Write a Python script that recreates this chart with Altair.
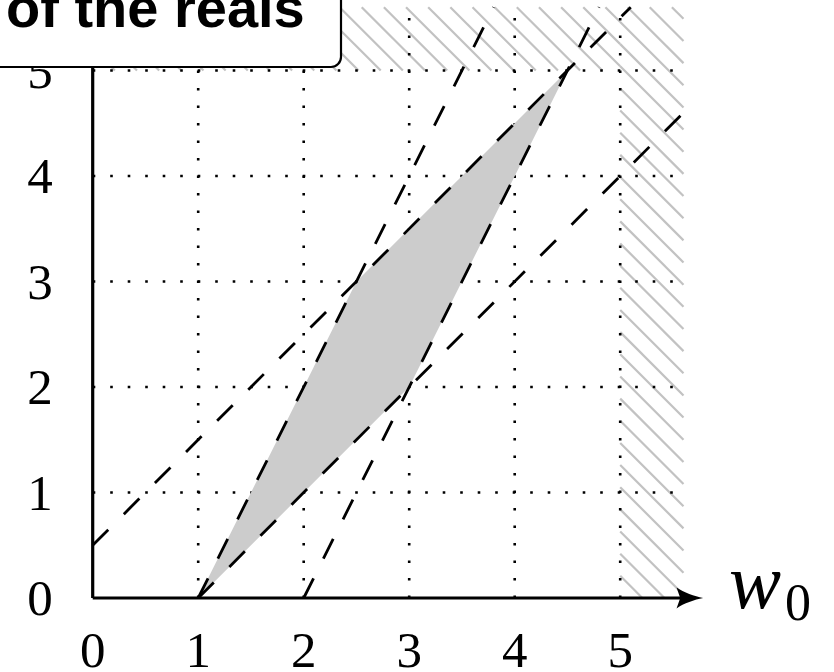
import altair as alt
import pandas as pd

# ---------------- data ----------------
tick_values = [0, 1, 2, 3, 4, 5]
tick_labels = ["0", "1", "2", "3", "4", "5"]
grid_values = [1, 2, 3, 4, 5]
plot_max = 5.6           # end of drawn plane
forbidden_from = 5.0     # hatched zone starts at 5 on both axes

# dashed constraint lines (start / end points, clipped to the plane)
line_x1 = [0.0, 1.0, 1.0, 2.0]
line_y1 = [0.5, 0.0, 0.0, 0.0]
line_x2 = [5.1, 5.6, 3.8, 4.8]
line_y2 = [5.6, 4.6, 5.6, 5.6]

# grey feasible region: upper and lower boundary at its vertices' x
region_x = [1.0, 2.5, 3.0, 4.5]
region_upper = [0.0, 3.0, 3.5, 5.0]
region_lower = [0.0, 1.5, 2.0, 5.0]

title_text = "of the reals"
x_label_main = "w"
x_label_sub = "0"
arrow_end = 5.66

# ---------------- geometry of the canvas ----------------
W, H = 834, 672
PX = 105.5            # pixels per unit
X0, Y0 = 92.7, 598.0  # pixel position of the origin
xs = alt.Scale(domain=[-X0 / PX, (W - X0) / PX], range=[0, W], nice=False, zero=False)
ys = alt.Scale(domain=[(Y0 - H) / PX, Y0 / PX], range=[H, 0], nice=False, zero=False)


def X(f):
    return alt.X(f, type="quantitative", scale=xs, axis=None)


def Y(f):
    return alt.Y(f, type="quantitative", scale=ys, axis=None)


# hatch texture (north-west lines) for the forbidden zone
hatch_step = 0.21
hatch_phase = 10.04
rects = [(forbidden_from, plot_max, 0.0, plot_max), (0.0, forbidden_from, forbidden_from, plot_max)]
hrows = []
for k in range(-26, 7):
    c = hatch_phase + k * hatch_step
    for (x0, x1, y0, y1) in rects:
        xa = max(x0, c - y1)
        xb = min(x1, c - y0)
        if xb - xa > 1e-6:
            hrows.append({"x": xa, "y": c - xa, "x2": xb, "y2": c - xb})
hatch_df = pd.DataFrame(hrows)

hatch = alt.Chart(hatch_df).mark_rule(color="#c2c2c2", strokeWidth=2.2).encode(
    x=X("x"), y=Y("y"), x2="x2", y2="y2")

vgrid_df = pd.DataFrame({"g": grid_values, "a": [0.0] * 5, "b": [plot_max] * 5})
vgrid = alt.Chart(vgrid_df).mark_rule(color="black", strokeWidth=2.6, strokeDash=[2.6, 14.9]).encode(
    x=X("g"), y=Y("a"), y2="b")
hgrid = alt.Chart(vgrid_df).mark_rule(color="black", strokeWidth=2.6, strokeDash=[2.6, 14.9]).encode(
    y=Y("g"), x=X("a"), x2="b")

region_df = pd.DataFrame({"x": region_x, "hi": region_upper, "lo": region_lower})
region = alt.Chart(region_df).mark_area(color="#cccccc", opacity=1, interpolate="linear").encode(
    x=X("x"), y=Y("hi"), y2="lo")

lines_df = pd.DataFrame({"x": line_x1, "y": line_y1, "x2": line_x2, "y2": line_y2})
dashed = alt.Chart(lines_df).mark_rule(color="black", strokeWidth=2.8, strokeDash=[22, 22]).encode(
    x=X("x"), y=Y("y"), x2="x2", y2="y2")

axes_df = pd.DataFrame({"x": [0.0, 0.0], "y": [0.0, 0.0], "x2": [arrow_end, 0.0], "y2": [0.0, plot_max]})
axes = alt.Chart(axes_df).mark_rule(color="black", strokeWidth=3.2).encode(
    x=X("x"), y=Y("y"), x2="x2", y2="y2")

arrow_path = "M1,0 C0.35,-0.12 -0.45,-0.4 -1,-0.78 L-0.72,0 L-1,0.78 C-0.45,0.4 0.35,0.12 1,0 Z"
arrow = alt.Chart(pd.DataFrame({"x": [arrow_end], "y": [0.0]})).mark_point(
    shape=arrow_path, size=708, filled=True, color="black", opacity=1, strokeWidth=0).encode(
    x=X("x"), y=Y("y"))

xt_df = pd.DataFrame({"v": tick_values, "t": tick_labels, "z": [0.0] * 6})
xlabels = alt.Chart(xt_df).mark_text(font="Liberation Serif", fontSize=51, baseline="alphabetic",
                                     align="center", dy=69, color="black").encode(
    x=X("v"), y=Y("z"), text="t")
ylabels = alt.Chart(xt_df).mark_text(font="Liberation Serif", fontSize=51, baseline="alphabetic",
                                     align="center", dy=17, color="black").encode(
    y=Y("v"), x=alt.value(40), text="t")

wlab = alt.Chart(pd.DataFrame({"t": [x_label_main], "z": [0.0]})).mark_text(
    font="Liberation Serif", fontStyle="italic", fontSize=78, baseline="alphabetic",
    align="left", dy=10, color="black").encode(x=alt.value(729), y=Y("z"), text="t")
wsub = alt.Chart(pd.DataFrame({"t": [x_label_sub], "z": [0.0]})).mark_text(
    font="Liberation Serif", fontSize=52, baseline="alphabetic",
    align="left", dy=22, color="black").encode(x=alt.value(785), y=Y("z"), text="t")

box = alt.Chart(pd.DataFrame({"t": [title_text]})).mark_rect(
    fill="white", stroke="black", strokeWidth=2.2, cornerRadius=10).encode(
    x=alt.value(-30), x2=alt.value(341), y=alt.value(-30), y2=alt.value(67))
title = alt.Chart(pd.DataFrame({"t": [title_text]})).mark_text(
    font="Liberation Sans", fontWeight="bold", fontSize=56, baseline="alphabetic",
    align="left", color="black").encode(x=alt.value(6), y=alt.value(26.5), text="t")

chart = alt.layer(hatch, vgrid, hgrid, region, dashed, axes, arrow, xlabels, ylabels,
                  wlab, wsub, box, title).properties(
    width=W, height=H, padding=0, background="white",
    autosize=alt.AutoSizeParams(type="none")
).configure_view(stroke=None)

chart.save("out.html", embed_options={"renderer": "svg", "actions": False})
